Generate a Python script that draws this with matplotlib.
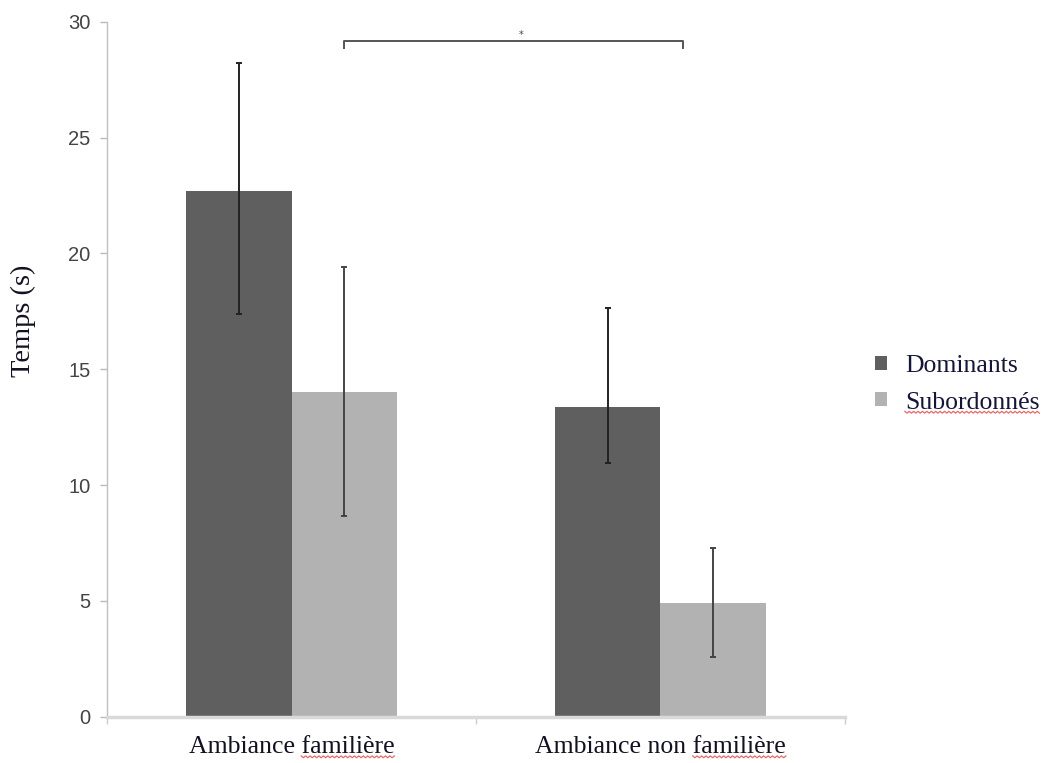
import matplotlib
matplotlib.use("Agg")
import matplotlib.pyplot as plt
import numpy as np

categories = ["Ambiance familière", "Ambiance non familière"]
series = ["Dominants", "Subordonnés"]
dominants = [22.7, 13.35]
dominants_err_low = [5.3, 2.4]
dominants_err_high = [5.5, 4.3]
subordonnes = [14.0, 4.92]
subordonnes_err_low = [5.35, 2.36]
subordonnes_err_high = [5.4, 2.37]
yticks = [0, 5, 10, 15, 20, 25, 30]

fig = plt.figure(figsize=(10.45, 7.63), dpi=100)
ax = fig.add_axes([0.1024, 0.0607, 0.7062, 0.9109])

x = np.arange(len(categories))
w = 1 / 3.5
c_dom = "#5f5f5f"
c_sub = "#b2b2b2"
ax.bar(x - w / 2, dominants, w, color=c_dom, label=series[0], zorder=2)
ax.bar(x + w / 2, subordonnes, w, color=c_sub, label=series[1], zorder=2)
ax.errorbar(x - w / 2, dominants, yerr=[dominants_err_low, dominants_err_high], fmt="none",
            ecolor="#222222", elinewidth=1.4, capsize=2.5, capthick=1.4, zorder=3)
ax.errorbar(x + w / 2, subordonnes, yerr=[subordonnes_err_low, subordonnes_err_high],
            fmt="none", ecolor="#444444", elinewidth=1.4, capsize=2.5, capthick=1.4, zorder=3)

# significance bracket
bx0, bx1 = 0 + w / 2, 1.062
ax.plot([bx0, bx0, bx1, bx1], [28.85, 29.18, 29.18, 28.85], color="#555555", lw=1.4,
        clip_on=False, zorder=4)
ax.text(0.622, 29.2, "*", ha="center", va="bottom", fontsize=7, color="#444444",
        family="DejaVu Sans")

ax.set_xlim(-0.5, 1.5)
ax.set_ylim(0, 30)
ax.set_yticks(yticks)
ax.set_yticklabels([str(v) for v in yticks], fontsize=14.5, color="#444444",
                   family="Liberation Sans")
ax.tick_params(axis="y", length=5, color="#bbbbbb", width=1, pad=7)
ax.set_xticks(x)
ax.set_xticklabels(categories, fontsize=18.5, family="Liberation Serif", color="#111122")
ax.tick_params(axis="x", length=0, pad=14)
ax.set_xticks([-0.5, 0.5, 1.5], minor=True)
ax.tick_params(axis="x", which="minor", length=5, color="#cccccc", width=1)

for s in ["top", "right"]:
    ax.spines[s].set_visible(False)
ax.spines["left"].set_color("#c0c0c0")
ax.spines["left"].set_linewidth(1)
ax.spines["bottom"].set_color("#d9d9d9")
ax.spines["bottom"].set_linewidth(2.5)

fig.text(0.022, 0.579, "Temps (s)", rotation=90, ha="center", va="center",
         fontsize=20.5, family="Liberation Serif", color="#111122")

leg = ax.legend(loc="center left", bbox_to_anchor=(1.016, 0.478), frameon=False,
                prop={"family": "Liberation Serif", "size": 18.5},
                handlelength=0.47, handleheight=0.47, handletextpad=0.7, labelspacing=0.55,
                borderpad=0.2)
for t in leg.get_texts():
    t.set_color("#15153a")

# spell-check style red wavy underlines under words
fig.canvas.draw()
renderer = fig.canvas.get_renderer()


def squiggle(text_artist, prefix):
    bb = text_artist.get_window_extent(renderer)
    tmp = fig.text(0, 0, prefix, fontproperties=text_artist.get_fontproperties())
    pw = tmp.get_window_extent(renderer).width if prefix else 0.0
    tmp.remove()
    x0 = bb.x0 + pw
    x1 = bb.x1
    y0 = bb.y0 + 1.0
    n = int((x1 - x0) / 2.2)
    xs = np.linspace(x0, x1, n + 1)
    ys = y0 + np.where(np.arange(n + 1) % 2 == 0, 1.2, -0.6)
    fig.add_artist(plt.Line2D(xs / fig.bbox.width, ys / fig.bbox.height,
                              transform=fig.transFigure, color="#e03535", lw=0.9, alpha=0.75))


labels = ax.get_xticklabels()
squiggle(labels[0], "Ambiance ")
squiggle(labels[1], "Ambiance non ")
squiggle(leg.get_texts()[1], "")

fig.savefig("out.png", dpi=100)
